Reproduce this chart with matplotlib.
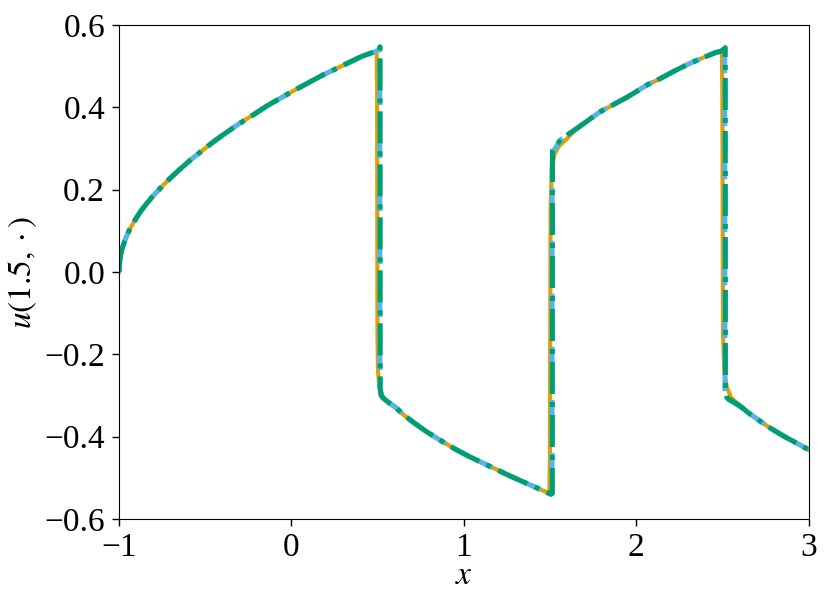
import numpy as np
import matplotlib
matplotlib.use("Agg")
import matplotlib.pyplot as plt

# values (u(1.5, x)), smooth branches are shared
x_rise1 = [-1.0, -0.995, -0.99, -0.98, -0.96, -0.94, -0.92, -0.90, -0.87, -0.84,
           -0.80, -0.75, -0.70, -0.64, -0.58, -0.52, -0.45, -0.38, -0.30, -0.22,
           -0.14, -0.06, 0.02, 0.10, 0.18, 0.26, 0.34, 0.41, 0.47]
u_rise1 = [0.0, 0.029, 0.042, 0.059, 0.083, 0.102, 0.117, 0.131, 0.150, 0.166,
           0.186, 0.208, 0.229, 0.252, 0.274, 0.294, 0.317, 0.338, 0.361, 0.382,
           0.404, 0.423, 0.442, 0.460, 0.478, 0.494, 0.510, 0.524, 0.533]

x_fall1 = [0.65, 0.71, 0.78, 0.86, 0.94, 1.02, 1.10, 1.18, 1.26, 1.34, 1.42, 1.47]
u_fall1 = [-0.347, -0.366, -0.387, -0.408, -0.428, -0.446, -0.462, -0.478, -0.494,
           -0.509, -0.524, -0.533]

x_rise2 = [1.65, 1.70, 1.79, 1.86, 1.94, 2.00, 2.061, 2.14, 2.22, 2.312, 2.39, 2.46]
u_rise2 = [0.347, 0.362, 0.389, 0.405, 0.423, 0.438, 0.454, 0.470, 0.488, 0.507,
           0.521, 0.533]

x_fall2 = [2.65, 2.71, 2.78, 2.86, 2.94, 3.0]
u_fall2 = [-0.342, -0.360, -0.380, -0.400, -0.418, -0.432]

# shock regions, one set per method
x_shk_ref = [[0.485, 0.494, 0.497, 0.499, 0.502, 0.51, 0.53, 0.56, 0.60],
             [1.48, 1.496, 1.499, 1.503, 1.51, 1.525, 1.55, 1.596],
             [2.485, 2.496, 2.499, 2.503, 2.51, 2.525, 2.55, 2.601]]
u_shk_ref = [[0.535, 0.536, 0.45, -0.15, -0.24, -0.28, -0.303, -0.317, -0.329],
             [-0.535, -0.536, -0.45, 0.15, 0.25, 0.285, 0.305, 0.323],
             [0.535, 0.536, 0.45, -0.15, -0.24, -0.28, -0.305, -0.325]]

x_shk_dash = [[0.49, 0.505, 0.512, 0.513, 0.52, 0.535, 0.56, 0.60],
              [1.49, 1.505, 1.511, 1.512, 1.52, 1.529, 1.562, 1.60],
              [2.49, 2.505, 2.513, 2.514, 2.52, 2.535, 2.56, 2.601]]
u_shk_dash = [[0.536, 0.539, 0.545, -0.28, -0.298, -0.308, -0.316, -0.327],
              [-0.537, -0.540, -0.537, 0.28, 0.295, 0.300, 0.321, 0.333],
              [0.536, 0.540, 0.545, -0.285, -0.300, -0.310, -0.316, -0.327]]

x_shk_dd = [[0.49, 0.505, 0.514, 0.515, 0.52, 0.533, 0.56, 0.60],
            [1.49, 1.505, 1.513, 1.514, 1.525, 1.545, 1.562, 1.60],
            [2.49, 2.505, 2.516, 2.517, 2.525, 2.543, 2.57, 2.601]]
u_shk_dd = [[0.536, 0.539, 0.547, -0.283, -0.300, -0.307, -0.316, -0.327],
            [-0.537, -0.540, -0.538, 0.296, 0.305, 0.313, 0.321, 0.333],
            [0.536, 0.540, 0.545, -0.291, -0.305, -0.311, -0.317, -0.325]]


def join(xs_shock, us_shock):
    x = x_rise1 + xs_shock[0] + x_fall1 + xs_shock[1] + x_rise2 + xs_shock[2] + x_fall2
    u = u_rise1 + us_shock[0] + u_fall1 + us_shock[1] + u_rise2 + us_shock[2] + u_fall2
    return np.array(x), np.array(u)


plt.rcParams["font.family"] = "Liberation Serif"
plt.rcParams["mathtext.fontset"] = "stix"
plt.rcParams["font.size"] = 24

fig = plt.figure(figsize=(8.31, 6.12), dpi=100)
ax = fig.add_axes([0.1432, 0.152, 0.8300, 0.8072])

x, u = join(x_shk_ref, u_shk_ref)
ax.plot(x, u, color="#E69F00", lw=3.0, ls="-")
x, u = join(x_shk_dash, u_shk_dash)
ax.plot(x, u, color="#56B4E9", lw=3.6, ls="--")
x, u = join(x_shk_dd, u_shk_dd)
ax.plot(x, u, color="#009E73", lw=3.6, ls="-.")

ax.set_xlim(-1, 3)
ax.set_ylim(-0.6, 0.6)
ax.set_xticks([-1, 0, 1, 2, 3])
ax.set_yticks([-0.6, -0.4, -0.2, 0.0, 0.2, 0.4, 0.6])
ax.tick_params(length=5, width=1, pad=5)
ax.set_xlabel(r"$x$", labelpad=-2)
ax.set_ylabel(r"$u(1.5,\cdot)$", labelpad=4)

fig.savefig("out.png", dpi=100)
